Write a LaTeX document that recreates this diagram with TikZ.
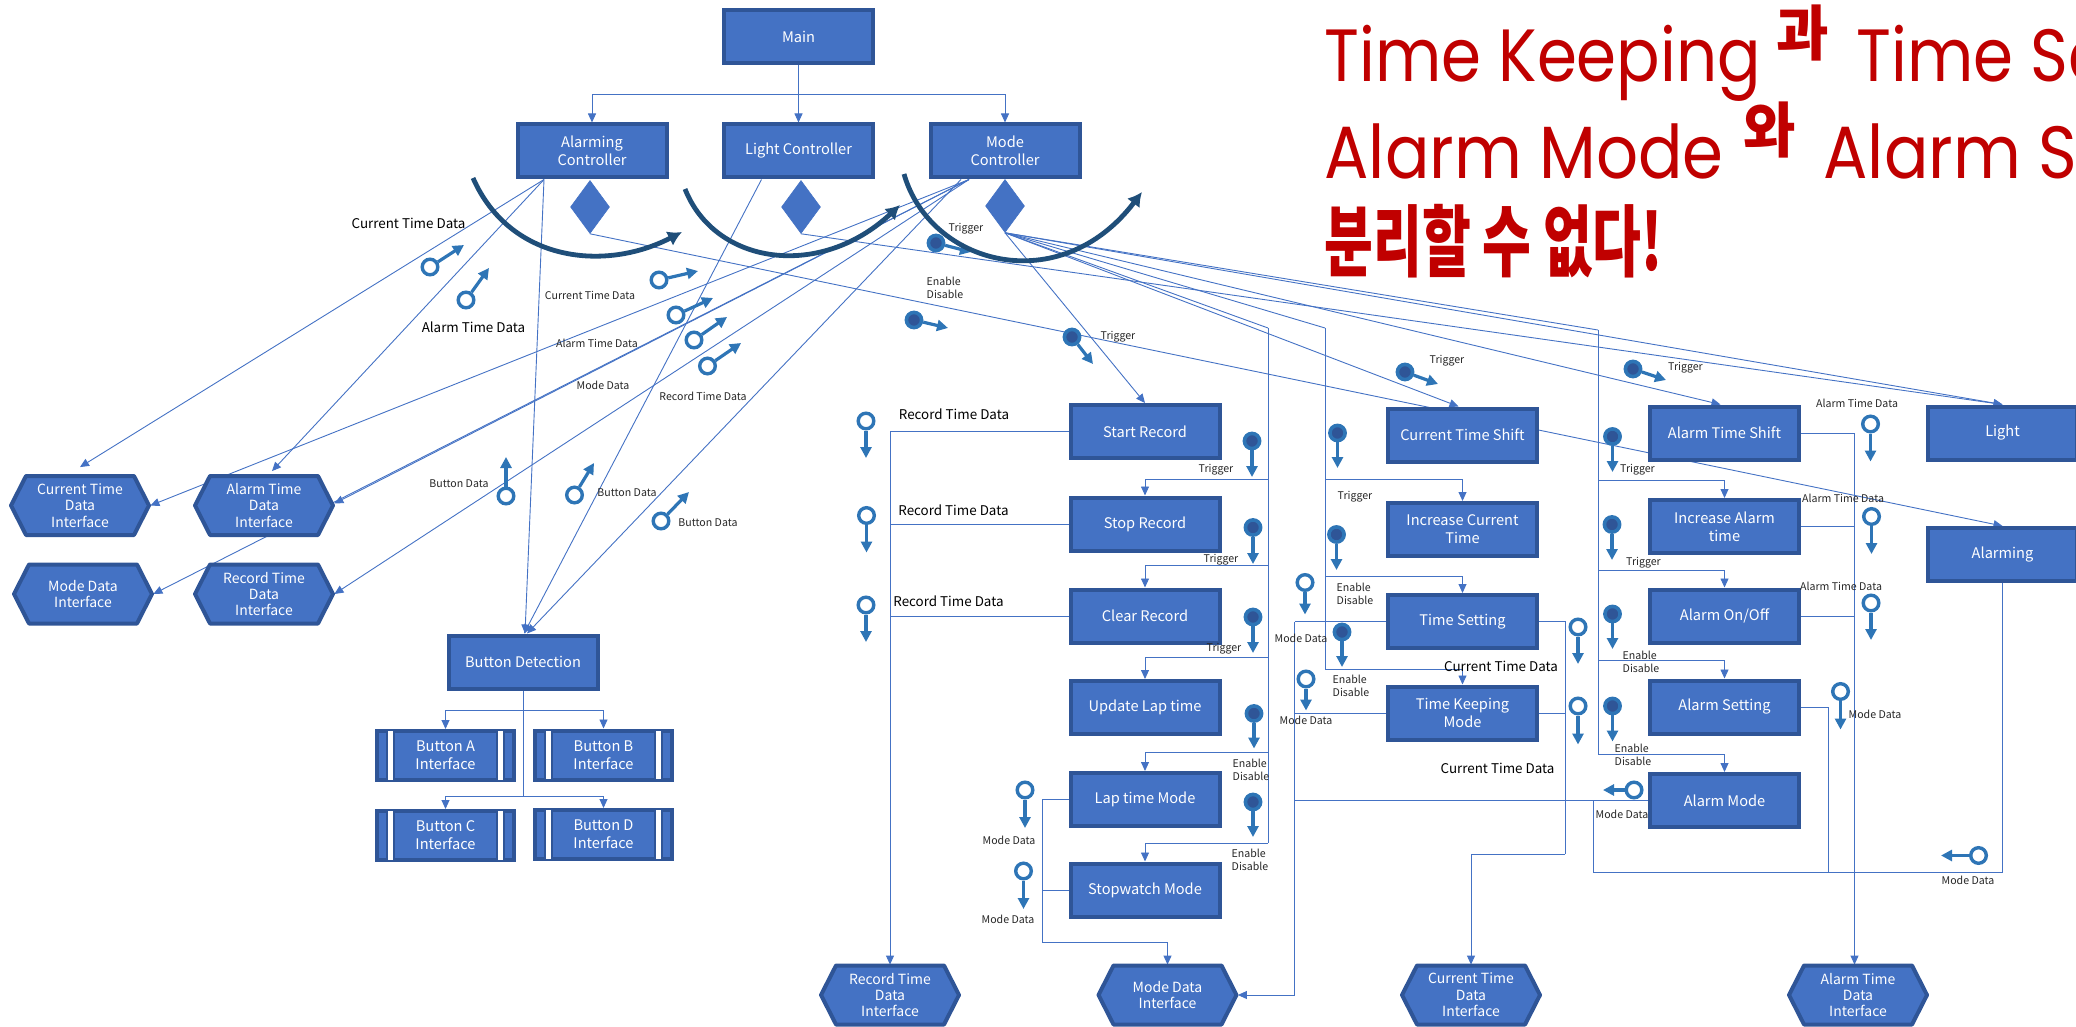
\documentclass[tikz,border=0pt]{standalone}
\usepackage{fontspec}
\setmainfont{Noto Sans CJK KR}
\newfontfamily\titlefont{Poppins}
\usetikzlibrary{arrows.meta,shapes.geometric}
\pgfdeclarelayer{back}
\pgfsetlayers{back,main}
\definecolor{boxfill}{HTML}{4472C4}
\definecolor{boxedge}{HTML}{2F5597}
\definecolor{pinblue}{HTML}{2E75B6}
\definecolor{arcblue}{HTML}{1F4E79}
\definecolor{titlered}{HTML}{C00000}
\tikzset{
  proc/.style={rectangle,draw=boxedge,fill=boxfill,line width=2pt,text=white,align=center,inner sep=0pt,
    minimum width=74.5pt,minimum height=26.5pt,font=\fontsize{7.3}{9}\selectfont},
  predef/.style={proc,minimum width=68.5pt,minimum height=24.5pt},
  hexlabel/.style={rectangle,text=white,align=center,inner sep=0pt,minimum width=70pt,minimum height=30pt,font=\fontsize{7}{8.2}\selectfont},
  hexedge/.style={draw=boxedge,fill=boxfill,line width=2pt,line join=round},
  dmd/.style={diamond,fill=boxfill,draw=boxfill,line width=.3pt,inner sep=0pt,aspect=.72,minimum width=19.5pt,minimum height=26.5pt},
  flow/.style={draw=boxfill,line width=.45pt,-{Triangle[length=4.5pt,width=4pt]}},
  wire/.style={draw=boxfill,line width=.45pt},
  dpin/.style={circle,draw=pinblue,fill=white,line width=1.7pt,inner sep=0pt,minimum size=7.8pt},
  cpin/.style={circle,draw=pinblue,fill=boxedge,line width=1.8pt,inner sep=0pt,minimum size=7.6pt},
  pinarrow/.style={draw=pinblue,line width=1.6pt,-{Triangle[length=5.5pt,width=5.5pt]}},
  lab/.style={inner sep=0pt,align=left,font=\fontsize{5.3}{6.6}\selectfont,text=black!85},
  biglab/.style={inner sep=0pt,font=\fontsize{6.7}{8}\selectfont,text=black},
  bigarc/.style={draw=arcblue,line width=2.4pt,-{Latex[length=7pt,width=8pt]}},
  titlelatin/.style={inner sep=0pt,anchor=base west,text=titlered,font=\titlefont\fontsize{37}{42}\selectfont},
  titlekr/.style={inner sep=0pt,anchor=center,text=titlered,font=\bfseries\fontsize{30}{34}\selectfont},
  titlekrb/.style={inner sep=0pt,anchor=west,text=titlered,font=\bfseries\fontsize{39}{44}\selectfont},
}
\newcommand{\hexnode}[4]{%
  \draw[hexedge] (#2-69,#3) -- (#2-54,#3-29.5) -- (#2+54,#3-29.5) -- (#2+69,#3) -- (#2+54,#3+29.5) -- (#2-54,#3+29.5) -- cycle;
  \node[hexlabel] (#1) at (#2,#3) {#4};}
\newcommand{\prednode}[4]{%
  \node[predef] (#1) at (#2,#3) {#4};
  \fill[white,draw=boxedge,line width=1.2pt] ([xshift=6pt,yshift=-.6pt]#1.north west) rectangle ([xshift=9.5pt,yshift=.6pt]#1.south west);
  \fill[white,draw=boxedge,line width=1.2pt] ([xshift=-6pt,yshift=-.6pt]#1.north east) rectangle ([xshift=-9.5pt,yshift=.6pt]#1.south east);}
\newcommand{\dflow}[5]{\node[dpin] (#1) at (#2,#3) {}; \coordinate (#1t) at (#4,#5); \draw[pinarrow] (#1) -- (#1t);}
\newcommand{\cflow}[5]{\node[cpin] (#1) at (#2,#3) {}; \coordinate (#1t) at (#4,#5); \draw[pinarrow] (#1) -- (#1t);}
\newcommand{\lbl}[4]{\node[lab] (#1) at (#2,#3) {#4};}
\newcommand{\Lbl}[4]{\node[biglab] (#1) at (#2,#3) {#4};}
\begin{document}
\begin{tikzpicture}[x=.5pt,y=-.5pt]
\useasboundingbox (0,0) rectangle (2076,1027);
% controllers
\node[proc] (main) at (798.5,37) {Main};
\node[proc] (alarmc) at (592,151) {Alarming\\Controller};
\node[proc] (lightc) at (798.5,151) {Light Controller};
\node[proc] (modec) at (1005,151) {Mode\\Controller};
\node[dmd] (da) at (590,207) {};
\node[dmd] (dl) at (801,207) {};
\node[dmd] (dm) at (1005,206) {};
% interfaces left
\hexnode{ictd}{80}{505.5}{Current Time\\Data\\Interface}
\hexnode{iatd}{264}{505.5}{Alarm Time\\Data\\Interface}
\hexnode{imd}{83}{594}{Mode Data\\Interface}
\hexnode{irtd}{264}{594}{Record Time\\Data\\Interface}
\node[proc] (bdet) at (523,662) {Button Detection};
\prednode{ba}{445.5}{755.5}{Button A\\Interface}
\prednode{bb}{603.5}{755}{Button B\\Interface}
\prednode{bc}{445.5}{835.5}{Button C\\Interface}
\prednode{bd}{603.5}{834.5}{Button D\\Interface}
% stopwatch column
\node[proc] (start) at (1145,431.5) {Start Record};
\node[proc] (stop) at (1145,524) {Stop Record};
\node[proc] (clear) at (1145,616) {Clear Record};
\node[proc] (lapup) at (1145,707.5) {Update Lap time};
\node[proc] (lapm) at (1145,799.5) {Lap time Mode};
\node[proc] (swm) at (1145,890) {Stopwatch Mode};
% time column
\node[proc] (cts) at (1462.5,435) {Current Time Shift};
\node[proc] (ict) at (1462.5,529.5) {Increase Current\\Time};
\node[proc] (tset) at (1462.5,621.5) {Time Setting};
\node[proc] (tkm) at (1462.5,713) {Time Keeping\\Mode};
% alarm column
\node[proc] (ats) at (1724.5,433) {Alarm Time Shift};
\node[proc] (iat) at (1724.5,526.5) {Increase Alarm\\time};
\node[proc] (aoo) at (1724.5,616) {Alarm On/Off};
\node[proc] (aset) at (1724.5,707) {Alarm Setting};
\node[proc] (amode) at (1724.5,800.5) {Alarm Mode};
\node[proc] (light) at (2002.5,433) {Light};
\node[proc] (alrm) at (2002.5,554.5) {Alarming};
% bottom interfaces
\hexnode{brtd}{890}{995}{Record Time\\Data\\Interface}
\hexnode{bmd}{1167.5}{995}{Mode Data\\Interface}
\hexnode{bctd}{1471}{995}{Current Time\\Data\\Interface}
\hexnode{batd}{1858}{995}{Alarm Time\\Data\\Interface}
% junction points
\coordinate (t1) at (1268,328);
\coordinate (t2) at (1325,328);
\coordinate (t3) at (1598,330);
\coordinate (j94) at (798.5,94);
\coordinate (bj1) at (523,710);
\coordinate (bj2) at (523,796);
\coordinate (t1a) at (1268,479);
\coordinate (t1b) at (1268,565);
\coordinate (t1c) at (1268,657);
\coordinate (t1d) at (1268,752.5);
\coordinate (t1e) at (1268,843);
\coordinate (t2a) at (1325,479.5);
\coordinate (t2b) at (1325,576);
\coordinate (t2c) at (1325,669);
\coordinate (t3a) at (1598,480.5);
\coordinate (t3b) at (1598,570.5);
\coordinate (t3c) at (1598,660);
\coordinate (t3d) at (1598,754.5);
\coordinate (rv) at (890,616);
\coordinate (mv1) at (1042,799.5);
\coordinate (mv2) at (1042,942.5);
\coordinate (tv) at (1294.5,621.5);
\coordinate (tv2) at (1294.5,995);
\coordinate (cv1) at (1565,621.5);
\coordinate (cv2) at (1565,854);
\coordinate (av) at (1854.5,433);
\coordinate (lo1) at (1593.5,800.5);
\coordinate (lo2) at (1593.5,872);
\coordinate (lo3) at (1828,872);
\begin{pgfonlayer}{back}
% tree from main
\draw[wire] (main.south) -- (j94);
\draw[flow] (j94) -| (alarmc.north);
\draw[flow] (j94) -- (lightc.north);
\draw[flow] (j94) -| (modec.north);
% alarming controller
\draw[flow] ([xshift=-24pt]alarmc.south) -- ([yshift=4pt]ictd.north);
\draw[flow] ([xshift=-24pt]alarmc.south) -- ([xshift=4pt,yshift=2pt]iatd.north);
\draw[flow] ([xshift=-24pt]alarmc.south) -- ([xshift=1pt]bdet.north);
% light controller
\draw[flow] ([xshift=-18.5pt]lightc.south) -- ([xshift=.5pt]bdet.north);
% mode controller data
\draw[flow] ([xshift=-18pt]modec.south) -- (ictd.east);
\draw[flow] ([xshift=-18pt]modec.south) -- ([yshift=1pt]iatd.east);
\draw[flow] ([xshift=-18pt]modec.south) -- (imd.east);
\draw[flow] ([xshift=-18pt]modec.south) -- (irtd.east);
\draw[flow] ([xshift=-22pt]modec.south) -- ([xshift=2pt]bdet.north);
% diamonds
\draw[flow] (da.south) -- (alrm.north);
\draw[flow] (dl.south) -- (light.north);
\draw[flow] (dm.south) -- (start.north);
\draw[flow] (dm.south) -- ([xshift=-2pt]cts.north);
\draw[flow] (dm.south) -- ([xshift=-2pt]ats.north);
\draw[flow] (dm.south) -- (light.north);
\draw[wire] (dm.south) -- (t1);
\draw[wire] (dm.south) -- (t2);
\draw[wire] (dm.south) -- (t3);
% trunks
\draw[wire] (t1) -- (t1e);
\draw[wire] (t2) -- (t2c);
\draw[wire] (t3) -- (t3d);
\draw[flow] (t1a) -| (stop.north);
\draw[flow] (t1b) -| (clear.north);
\draw[flow] (t1c) -| (lapup.north);
\draw[flow] (t1d) -| (lapm.north);
\draw[flow] (t1e) -| (swm.north);
\draw[flow] (t2a) -| (ict.north);
\draw[flow] (t2b) -| (tset.north);
\draw[flow] (t2c) -| (tkm.north);
\draw[flow] (t3a) -| (iat.north);
\draw[flow] (t3b) -| (aoo.north);
\draw[flow] (t3c) -| (aset.north);
\draw[flow] (t3d) -| (amode.north);
% buttons
\draw[wire] (bdet.south) -- (bj2);
\draw[flow] (bj1) -| (ba.north);
\draw[flow] (bj1) -| (bb.north);
\draw[flow] (bj2) -| (bc.north);
\draw[flow] (bj2) -| (bd.north);
% record data
\draw[flow] (start.west) -| (brtd.north);
\draw[wire] (stop.west) -- (stop.west -| rv);
\draw[wire] (clear.west) -- (rv);
% mode data
\draw[wire] (lapm.west) -- (mv1) -- (mv2);
\draw[wire] (swm.west) -- (swm.west -| mv1);
\draw[flow] (mv2) -| (bmd.north);
\draw[wire] (tset.west) -- (tv);
\draw[wire] (tkm.west) -- (tkm.west -| tv);
\draw[wire] (amode.west) -- (amode.west -| tv);
\draw[wire] (tv) -- (tv2);
\draw[flow] (tv2) -- (bmd.east);
% current time data
\draw[wire] (tset.east) -- (cv1) -- (cv2);
\draw[wire] (tkm.east) -- (tkm.east -| cv1);
\draw[flow] (cv2) -| (bctd.north);
% alarm time data
\draw[wire] (ats.east) -- (av);
\draw[flow] (av) -- (av |- batd.north);
\draw[wire] (iat.east) -- (iat.east -| av);
\draw[wire] (aoo.east) -- (aoo.east -| av);
% mode data lower loop
\draw[wire] (lo1) -- (lo2) -| (alrm.south);
\draw[wire] (aset.east) -| (lo3);
\end{pgfonlayer}
% flow pins
\dflow{p1}{430}{267}{464}{245}
\dflow{p2}{466}{300}{489}{268}
\dflow{p3}{659}{280}{698}{271}
\dflow{p4}{676}{315}{713}{298}
\dflow{p5}{694}{340}{727}{317}
\dflow{p6}{707.5}{366}{741}{343}
\cflow{p7}{936}{243}{971}{252}
\cflow{p8}{914}{320}{948}{328}
\cflow{p9}{1072}{337}{1093}{364}
\cflow{p10}{1405}{372}{1438}{384}
\cflow{p11}{1633}{369}{1666}{380}
\dflow{p12}{506}{496}{506}{457}
\dflow{p13}{574.5}{495}{594}{463}
\dflow{p14}{661}{521}{689}{492}
\dflow{p15}{866}{421}{866}{458}
\dflow{p16}{866.5}{515.5}{866.5}{552.5}
\dflow{p17}{866}{605}{866}{642}
\cflow{p18}{1252}{441}{1252}{477}
\cflow{p19}{1253}{527.5}{1253}{564}
\cflow{p20}{1253}{617}{1253}{653}
\cflow{p21}{1254}{713.5}{1254}{748.5}
\cflow{p22}{1253}{802}{1253}{837}
\cflow{p23}{1337.5}{433}{1337.5}{468}
\cflow{p24}{1336.5}{534.5}{1336.5}{570}
\dflow{p25}{1305}{582.5}{1305}{614.5}
\cflow{p26}{1342}{632}{1342}{667}
\dflow{p27}{1306}{679}{1306}{710.5}
\dflow{p28}{1025}{790}{1025}{828}
\dflow{p29}{1023.5}{871}{1023.5}{909}
\dflow{p30}{1578}{627}{1578}{664}
\dflow{p31}{1578}{706}{1578}{744.5}
\cflow{p32}{1612.5}{436.5}{1612.5}{472}
\cflow{p33}{1612}{524.5}{1612}{560}
\cflow{p34}{1612.5}{614}{1612.5}{649}
\cflow{p35}{1612.5}{706}{1612.5}{741.5}
\dflow{p36}{1870.5}{424}{1870.5}{461.5}
\dflow{p37}{1871.5}{516.5}{1871.5}{554}
\dflow{p38}{1871}{603}{1871}{640}
\dflow{p39}{1840.5}{691.5}{1840.5}{729.5}
\dflow{p40}{1634}{790}{1603}{790}
\dflow{p41}{1978.5}{855.5}{1941}{855.5}
% big arcs
\coordinate (a1s) at (473,178); \coordinate (a1e) at (682,232);
\coordinate (a2s) at (685,189); \coordinate (a2e) at (900,205);
\coordinate (a3s) at (904,174); \coordinate (a3e) at (1142,192);
\draw[bigarc] (a1s) .. controls (510,262) and (605,272) .. (a1e);
\draw[bigarc] (a2s) .. controls (715,265) and (820,280) .. (a2e);
\draw[bigarc] (a3s) .. controls (930,265) and (1060,300) .. (a3e);
% labels
\Lbl{l1}{408.5}{223}{Current Time Data}
\Lbl{l2}{473.5}{327}{Alarm Time Data}
\lbl{l3}{590}{295}{Current Time Data}
\lbl{l4}{597}{343}{Alarm Time Data}
\lbl{l5}{603}{385}{Mode Data}
\lbl{l6}{703}{396}{Record Time Data}
\lbl{l7}{459}{484}{Button Data}
\lbl{l8}{627}{493}{Button Data}
\lbl{l9}{708}{523}{Button Data}
\lbl{l10}{966}{229}{Trigger}
\lbl{l11}{945}{288}{Enable\\Disable}
\lbl{l12}{1118}{337}{Trigger}
\lbl{l13}{1447}{361}{Trigger}
\lbl{l14}{1685.5}{368}{Trigger}
\Lbl{l15}{954}{414}{Record Time Data}
\Lbl{l16}{953.5}{510}{Record Time Data}
\Lbl{l17}{948.5}{601}{Record Time Data}
\lbl{l18}{1216}{469.5}{Trigger}
\lbl{l19}{1221}{560}{Trigger}
\lbl{l20}{1224}{648.5}{Trigger}
\lbl{l21}{1251}{770}{Enable\\Disable}
\lbl{l22}{1250}{860}{Enable\\Disable}
\lbl{l23}{1009}{840}{Mode Data}
\lbl{l24}{1008}{919.5}{Mode Data}
\lbl{l25}{1355}{496.5}{Trigger}
\lbl{l26}{1355}{594}{Enable\\Disable}
\lbl{l27}{1301}{638.5}{Mode Data}
\lbl{l28}{1351}{686}{Enable\\Disable}
\lbl{l29}{1306}{720.5}{Mode Data}
\Lbl{l30}{1501}{666}{Current Time Data}
\Lbl{l31}{1497.5}{768.5}{Current Time Data}
\lbl{l32}{1637.5}{469.5}{Trigger}
\lbl{l33}{1643.5}{562.5}{Trigger}
\lbl{l34}{1641}{662}{Enable\\Disable}
\lbl{l35}{1633}{755}{Enable\\Disable}
\lbl{l36}{1857}{403}{Alarm Time Data}
\lbl{l37}{1843}{498.5}{Alarm Time Data}
\lbl{l38}{1841}{586}{Alarm Time Data}
\lbl{l39}{1875}{714.5}{Mode Data}
\lbl{l40}{1622}{814}{Mode Data}
\lbl{l41}{1968}{880.5}{Mode Data}
% title
\node[titlelatin] (t1w) at (1324,82) {\scalebox{.87}[1]{Time Keeping}};
\node[titlekr] (t1k) at (1803,33) {\scalebox{.95}[1]{과}};
\node[titlelatin] (t1x) at (1856,82) {\scalebox{.87}[1]{Time Se}};
\node[titlelatin] (t2w) at (1324,179) {\scalebox{.89}[1]{Alarm Mode}};
\node[titlekr] (t2k) at (1770,130) {\scalebox{.95}[1]{와}};
\node[titlelatin] (t2x) at (1823,179) {\scalebox{.89}[1]{Alarm S}};
\node[titlekrb] (t3) at (1324,241) {\scalebox{.68}[1]{분리할 수 없다!}};
\end{tikzpicture}
\end{document}
